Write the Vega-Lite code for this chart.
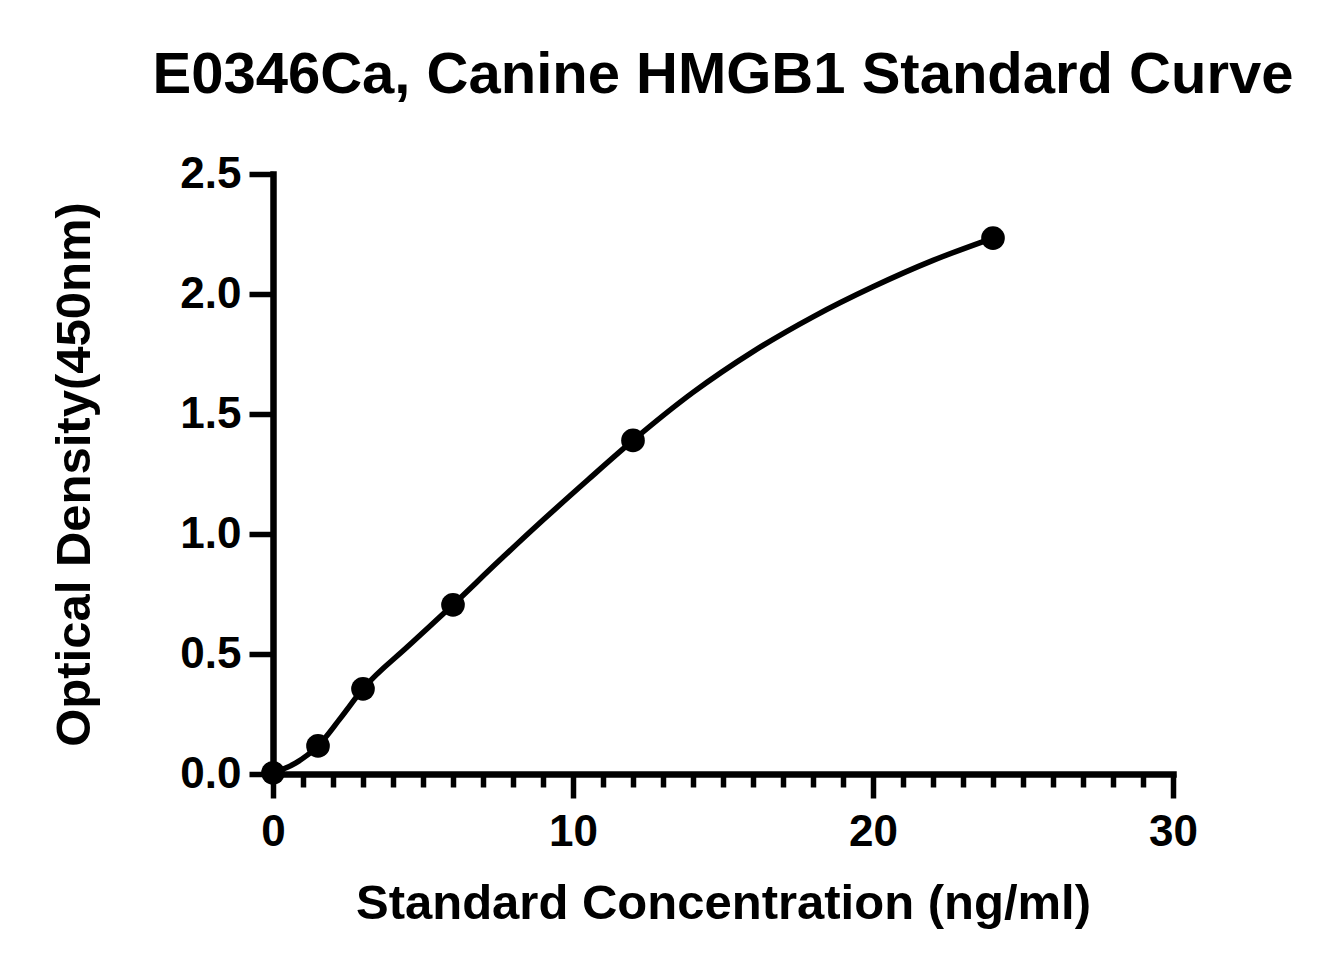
{
  "$schema": "https://vega.github.io/schema/vega-lite/v6.json",
  "autosize": "none",
  "width": 900,
  "height": 600,
  "padding": {"left": 273, "top": 174, "right": 168, "bottom": 201},
  "background": "white",
  "title": {
    "text": "E0346Ca, Canine HMGB1 Standard Curve",
    "font": "Liberation Sans",
    "fontSize": 58,
    "fontWeight": "bold",
    "color": "black",
    "anchor": "middle",
    "offset": 47
  },
  "datasets": {
    "points": [
      {"conc": 0, "od": 0.005},
      {"conc": 1.5, "od": 0.117},
      {"conc": 3, "od": 0.355},
      {"conc": 6, "od": 0.705},
      {"conc": 12, "od": 1.39},
      {"conc": 24, "od": 2.233}
    ],
    "curve": [
      {"conc": 0, "od": 0.005},
      {"conc": 0.75, "od": 0.045},
      {"conc": 1.5, "od": 0.117},
      {"conc": 2.25, "od": 0.233},
      {"conc": 3, "od": 0.355},
      {"conc": 4.5, "od": 0.532},
      {"conc": 6, "od": 0.705},
      {"conc": 7.5, "od": 0.884},
      {"conc": 9, "od": 1.058},
      {"conc": 10.5, "od": 1.226},
      {"conc": 12, "od": 1.39},
      {"conc": 14, "od": 1.59},
      {"conc": 16, "od": 1.76},
      {"conc": 18, "od": 1.905},
      {"conc": 20, "od": 2.03},
      {"conc": 22, "od": 2.14},
      {"conc": 24, "od": 2.233}
    ]
  },
  "config": {
    "view": {"stroke": null},
    "axis": {
      "labelFont": "Liberation Sans",
      "labelFontWeight": "bold",
      "labelFontSize": 44,
      "labelColor": "black",
      "labelFlush": false,
      "titleFont": "Liberation Sans",
      "titleFontWeight": "bold",
      "titleFontSize": 49,
      "titleColor": "black",
      "grid": false
    }
  },
  "encoding": {
    "x": {
      "field": "conc",
      "type": "quantitative",
      "scale": {"domain": [0, 30], "nice": false},
      "title": "Standard Concentration (ng/ml)",
      "axis": {
        "values": [0,1,2,3,4,5,6,7,8,9,10,11,12,13,14,15,16,17,18,19,20,21,22,23,24,25,26,27,28,29,30],
        "labelExpr": "datum.value % 10 == 0 ? datum.label : ''",
        "tickSize": {"condition": {"test": "datum.value % 10 == 0", "value": 24}, "value": 13},
        "tickColor": "black",
        "tickWidth": 5.5,
        "domainColor": "black",
        "domainWidth": 6.5,
        "domainCap": "square",
        "labelPadding": 12,
        "titlePadding": 25
      }
    },
    "y": {
      "field": "od",
      "type": "quantitative",
      "scale": {"domain": [0, 2.5], "nice": false},
      "title": "Optical Density(450nm)",
      "axis": {
        "values": [0, 0.5, 1, 1.5, 2, 2.5],
        "format": ".1f",
        "tickSize": 24,
        "tickColor": "black",
        "tickWidth": 5.5,
        "domainColor": "black",
        "domainWidth": 6.5,
        "domainCap": "square",
        "labelPadding": 8,
        "titlePadding": 80
      }
    }
  },
  "layer": [
    {
      "data": {"name": "curve"},
      "mark": {"type": "line", "interpolate": "monotone", "color": "black", "strokeWidth": 5.5, "strokeCap": "round", "clip": false}
    },
    {
      "data": {"name": "points"},
      "mark": {"type": "circle", "color": "black", "opacity": 1, "size": 560}
    }
  ]
}
